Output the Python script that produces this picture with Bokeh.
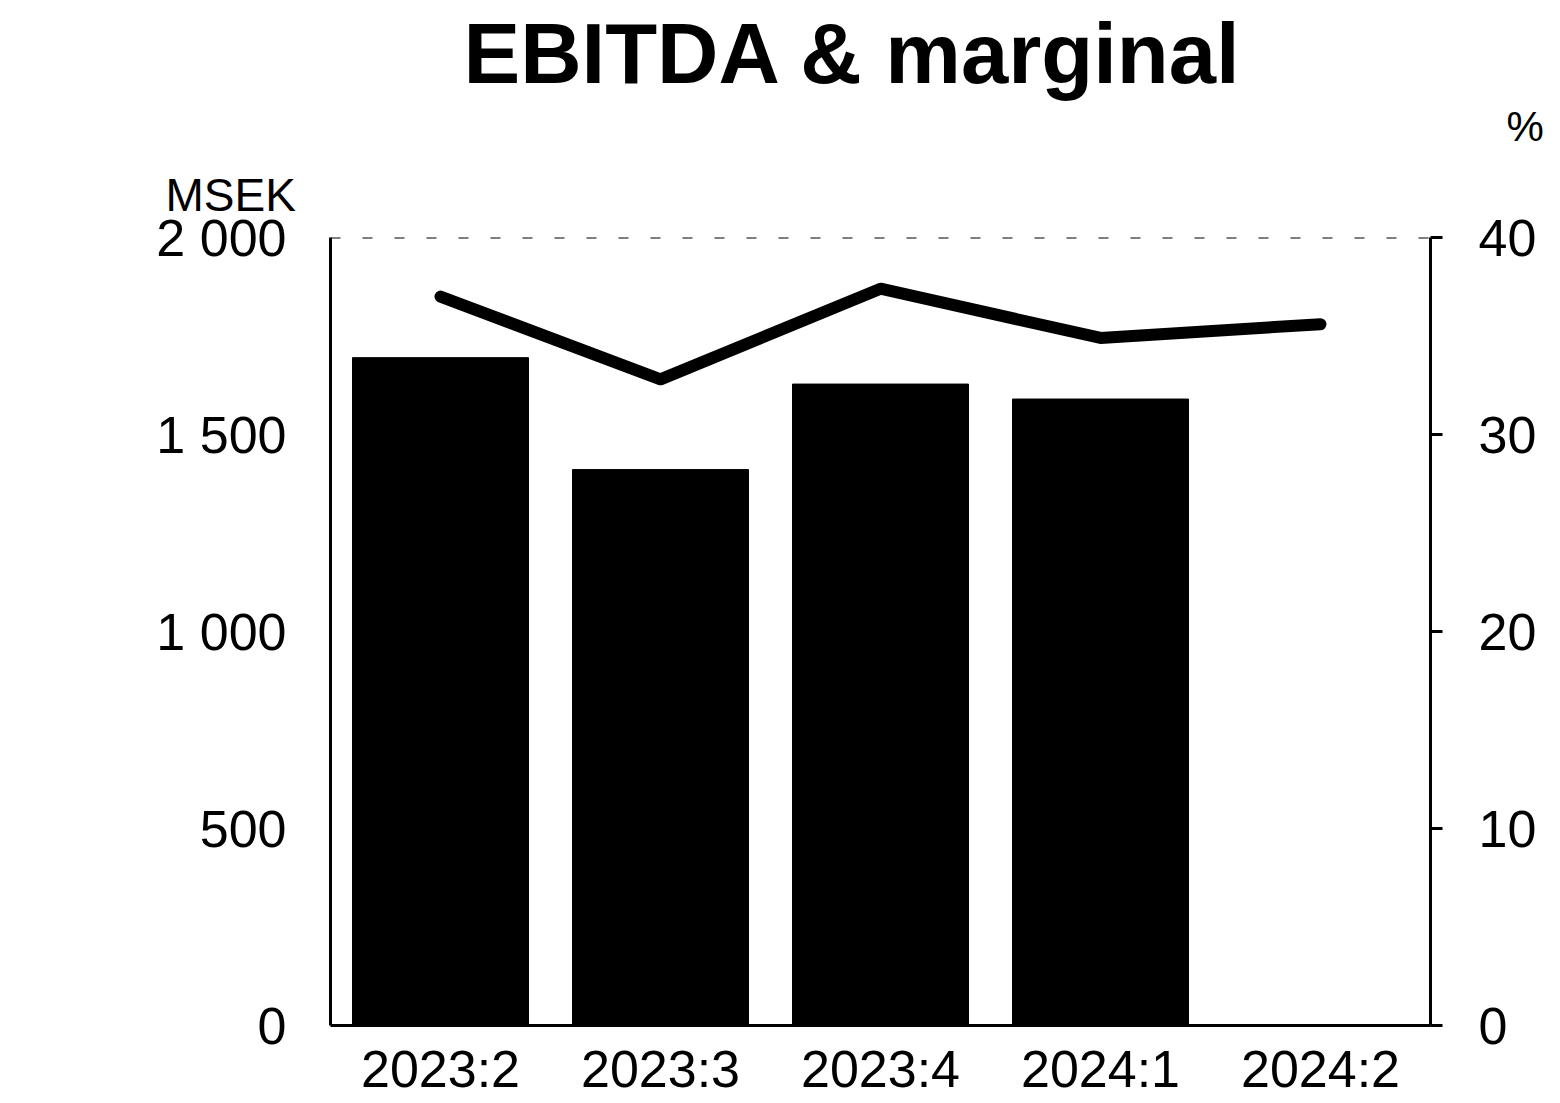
from bokeh.plotting import figure
from bokeh.models import Range1d, LinearAxis, FixedTicker, Title, ColumnDataSource, FactorRange, Span
from bokeh.embed import file_html
from bokeh.resources import INLINE

quarters = ["2023:2", "2023:3", "2023:4", "2024:1", "2024:2"]
ebitda = [1695, 1411, 1628, 1590, None]
margin = [37.0, 32.8, 37.4, 34.9, 35.6]
left_ticks = [0, 500, 1000, 1500, 2000]
left_tick_labels = ["0", "500", "1 000", "1 500", "2 000"]
right_ticks = [0, 10, 20, 30, 40]
right_tick_labels = ["0", "10", "20", "30", "40"]
title_text = "EBITDA & marginal"
left_unit = "MSEK"
right_unit = "%"

FONT = "Liberation Sans"
W, H = 1552, 1100

p = figure(width=W, height=H, x_range=FactorRange(*quarters), y_range=Range1d(0, 2000),
           output_backend="svg", toolbar_location=None,
           min_border_left=330, min_border_right=122, min_border_top=237, min_border_bottom=75)
p.extra_y_ranges = {"pct": Range1d(0, 40)}

bar_q = [q for q, v in zip(quarters, ebitda) if v is not None]
bar_v = [v for v in ebitda if v is not None]
src = ColumnDataSource(dict(x=bar_q, top=bar_v))
p.vbar(x="x", top="top", width=0.8, source=src, fill_color="black", line_color="black")

lsrc = ColumnDataSource(dict(x=quarters, y=margin))
p.line(x="x", y="y", source=lsrc, y_range_name="pct", line_color="black", line_width=12,
       line_join="round", line_cap="round")

# axes
la = p.yaxis[0]
la.ticker = FixedTicker(ticks=left_ticks)
la.major_label_overrides = {t: l for t, l in zip(left_ticks, left_tick_labels)}
la.major_label_text_font = FONT
la.major_label_text_font_size = "52px"
la.major_label_text_color = "black"
la.major_tick_in = 0
la.major_tick_out = 0
la.minor_tick_in = 0
la.minor_tick_out = 0
la.axis_line_width = 3
la.axis_line_color = "black"
la.major_label_standoff = 44

ra = LinearAxis(y_range_name="pct", ticker=FixedTicker(ticks=right_ticks))
ra.major_label_overrides = {t: l for t, l in zip(right_ticks, right_tick_labels)}
ra.major_label_text_font = FONT
ra.major_label_text_font_size = "52px"
ra.major_label_text_color = "black"
ra.major_tick_in = 0
ra.major_tick_out = 12
ra.major_tick_line_width = 3
ra.minor_tick_in = 0
ra.minor_tick_out = 0
ra.axis_line_width = 3
ra.axis_line_color = "black"
ra.major_label_standoff = 36
p.add_layout(ra, "right")

xa = p.xaxis[0]
xa.major_label_text_font = FONT
xa.major_label_text_font_size = "52px"
xa.major_label_text_color = "black"
xa.major_tick_in = 0
xa.major_tick_out = 0
xa.axis_line_width = 3
xa.axis_line_color = "black"
xa.major_label_standoff = 14
xa.group_text_font_size = "0px"

p.xgrid.visible = False
p.ygrid.visible = False
p.add_layout(Span(location=left_ticks[-1], dimension="width", line_color="black",
                  line_width=2, line_dash="10 22"))
p.outline_line_color = None
p.background_fill_color = "white"
p.border_fill_color = "white"

# texts above the plot frame (first added sits nearest the frame)
p.add_layout(Title(text=left_unit, align="left", offset=-165, standoff=34,
                   text_font=FONT, text_font_style="normal", text_font_size="46px",
                   text_color="black"), "above")
p.add_layout(Title(text=right_unit, align="left", offset=1176, standoff=0,
                   text_font=FONT, text_font_style="normal", text_font_size="42px",
                   text_color="black"), "above")
p.add_layout(Title(text=title_text, align="left", offset=133, standoff=0,
                   text_font=FONT, text_font_style="bold", text_font_size="85px",
                   text_color="black"), "above")

open("out.html", "w").write(file_html(p, INLINE))
